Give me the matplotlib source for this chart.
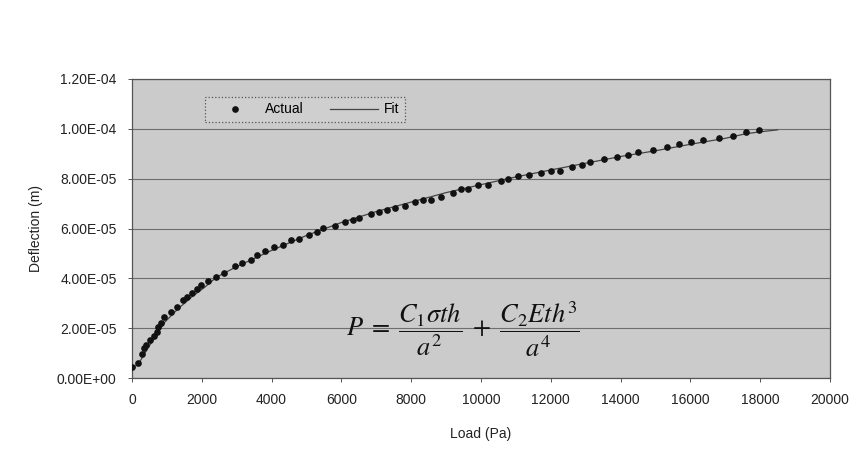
import numpy as np
from matplotlib import pyplot as plt
from matplotlib.ticker import FuncFormatter, MultipleLocator
from matplotlib.lines import Line2D

load = [10, 180, 280, 350, 390, 515, 630, 705, 755, 820,
        925, 1110, 1280, 1470, 1565, 1710, 1855, 1980, 2170, 2400,
        2645, 2950, 3160, 3410, 3590, 3810, 4070, 4320, 4545, 4785,
        5070, 5310, 5465, 5815, 6100, 6340, 6515, 6850, 7085, 7315,
        7535, 7820, 8110, 8330, 8565, 8845, 9190, 9425, 9635, 9920,
        10210, 10560, 10780, 11070, 11380, 11710, 12000, 12260, 12615, 12900,
        13120, 13530, 13885, 14220, 14505, 14920, 15320, 15670, 16005, 16350,
        16815, 17230, 17580, 17970]
deflection = [0.45, 0.59, 0.95, 1.19, 1.32, 1.52, 1.68, 1.85, 2.03, 2.19,
              2.43, 2.65, 2.85, 3.12, 3.25, 3.41, 3.59, 3.72, 3.89, 4.05,
              4.22, 4.49, 4.62, 4.74, 4.92, 5.08, 5.25, 5.33, 5.52, 5.59,
              5.75, 5.85, 6.01, 6.09, 6.28, 6.35, 6.43, 6.59, 6.68, 6.76,
              6.83, 6.92, 7.08, 7.15, 7.15, 7.25, 7.43, 7.59, 7.59, 7.75,
              7.76, 7.92, 8.00, 8.09, 8.14, 8.24, 8.32, 8.32, 8.48, 8.56,
              8.67, 8.80, 8.88, 8.96, 9.07, 9.15, 9.29, 9.41, 9.48, 9.56,
              9.63, 9.73, 9.89, 9.96]

# fit curve as drawn
fit_load = [0, 180, 420, 755, 945, 1330, 1710, 2090, 2425, 3000,
            4000, 5000, 6000, 7000, 8000, 9000, 10000, 11000, 12000, 13000,
            14000, 15000, 16000, 17000, 17580, 18000, 18500]
fit_deflection = [0.38, 0.55, 1.12, 1.85, 2.25, 2.79, 3.25, 3.65, 4.05, 4.47,
                  5.12, 5.72, 6.24, 6.68, 7.06, 7.44, 7.76, 8.07, 8.35, 8.62,
                  8.89, 9.12, 9.38, 9.62, 9.80, 9.88, 9.96]

SCALE = 1e-5

plt.rcParams['font.family'] = ['Liberation Sans', 'DejaVu Sans']

fig = plt.figure(figsize=(8.58, 4.68), dpi=100)
fig.subplots_adjust(left=0.1538, right=0.9674, top=0.8312, bottom=0.1923)
ax = fig.add_subplot(111)
ax.set_facecolor('#cbcbcb')

ax.plot(np.array(fit_load), np.array(fit_deflection) * SCALE,
        color='#444444', linewidth=0.9, zorder=3)
ax.plot(np.array(load), np.array(deflection) * SCALE, 'o',
        color='#111111', markersize=3.8, zorder=4)

ax.set_xlim(0, 20000)
ax.set_ylim(0, 1.2e-4)
ax.xaxis.set_major_locator(MultipleLocator(2000))
ax.yaxis.set_major_locator(MultipleLocator(2e-5))
ax.yaxis.set_major_formatter(FuncFormatter(lambda v, p: f"{v:.2E}"))
ax.grid(axis='y', color='#6e6e6e', linewidth=0.8)
ax.set_axisbelow(True)
for s in ax.spines.values():
    s.set_color('#555555')
    s.set_linewidth(0.9)
ax.tick_params(direction='out', length=3, width=0.7, color='#555555',
               labelsize=10, labelcolor='#222222', pad=8)

ax.set_xlabel('Load (Pa)', fontsize=10, color='#222222', labelpad=14)
ax.set_ylabel('Deflection (m)', fontsize=10, color='#222222', labelpad=10)

handles = [Line2D([], [], marker='o', linestyle='none', color='#111111', markersize=3.8),
           Line2D([], [], color='#444444', linewidth=0.9)]
leg = ax.legend(handles, ['Actual', 'Fit'], ncol=2, loc='lower left',
                bbox_to_anchor=(0.1046, 0.856, 0.2864, 0.1106), mode='expand',
                fontsize=10, frameon=True, fancybox=False, borderaxespad=0,
                handlelength=3.5, handletextpad=0.4, columnspacing=0.6)
frame = leg.get_frame()
frame.set_facecolor('#cfcfcf')
frame.set_edgecolor('#555555')
frame.set_linestyle(':')
frame.set_linewidth(0.9)
frame.set_alpha(1)

ax.text(9485, 1.95e-5,
        r'$P\;=\;\dfrac{C_1\sigma t h}{a^2}\;+\;\dfrac{C_2 E t h^3}{a^4}$',
        math_fontfamily='stix', fontsize=19, ha='center', va='center',
        color='#111111', zorder=5)

fig.savefig('out.png', dpi=100, facecolor='white')
